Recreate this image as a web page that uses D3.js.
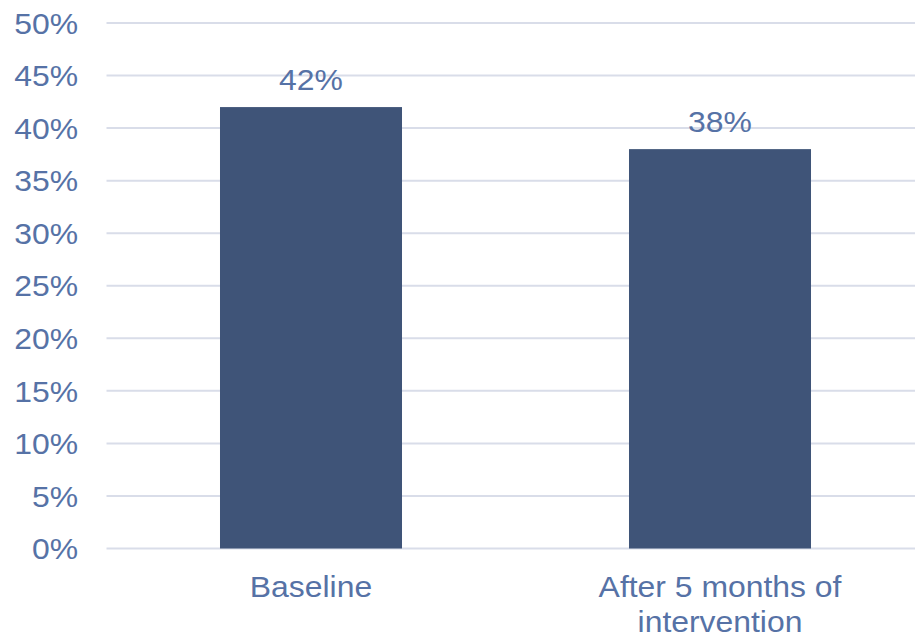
<!DOCTYPE html>
<html>
<head>
<meta charset="utf-8">
<script src="https://cdn.jsdelivr.net/npm/d3@7"></script>
<style>
  html, body { margin: 0; padding: 0; background: #fff; }
  svg { display: block; font-family: "Liberation Sans", Arial, sans-serif; }
</style>
</head>
<body>
<svg id="chart" width="915" height="637"></svg>
<script>
// Share of participants by phase
const categories = ["Baseline", "After 5 months of intervention"];
const categoryLines = [["Baseline"], ["After 5 months of", "intervention"]];
const values = [42, 38];
const yTicks = [0, 5, 10, 15, 20, 25, 30, 35, 40, 45, 50];

const svg = d3.select("#chart");
const textColor = "#5672a6";
const barColor = "#3f5478";
const gridColor = "#d9dde9";
const fontSize = 29;
const stretch = 1.1; // slightly widened lettering

const plotLeft = 106.5, plotRight = 924.5;
const yTop = 23, yBottom = 548.5;

const x = d3.scaleBand().domain(categories).range([plotLeft, plotRight]).padding(0);
const barW = x.bandwidth() * 0.445;
const y = d3.scaleLinear().domain([0, 50]).range([yBottom, yTop]);

// places a text element at (px, py) with horizontal widening
function place(sel, px, py) {
  sel.attr("transform", (d, i) => `translate(${px(d, i)},${py(d, i)}) scale(${stretch},1)`);
}

// gridlines
svg.append("g").selectAll("line").data(yTicks).join("line")
  .attr("x1", plotLeft).attr("x2", 915)
  .attr("y1", d => y(d)).attr("y2", d => y(d))
  .attr("stroke", gridColor).attr("stroke-width", 2);

// y axis labels
const yAxis = d3.axisLeft(y).tickValues(yTicks).tickFormat(d => d + "%").tickSize(0).tickPadding(0);
const yg = svg.append("g").attr("transform", "translate(78,0)").call(yAxis);
yg.select(".domain").remove();
yg.selectAll("text").attr("fill", textColor).style("font-size", fontSize + "px")
  .style("font-family", "'Liberation Sans', Arial, sans-serif")
  .attr("x", null).attr("dy", "0.35em")
  .attr("transform", `scale(${stretch},1)`);

// bars
svg.append("g").selectAll("rect").data(values).join("rect")
  .attr("x", (d, i) => x(categories[i]) + (x.bandwidth() - barW) / 2)
  .attr("y", d => y(d))
  .attr("width", barW)
  .attr("height", d => y(0) - y(d))
  .attr("fill", barColor);

// value labels
svg.append("g").selectAll("text").data(values).join("text")
  .call(place, (d, i) => x(categories[i]) + x.bandwidth() / 2, d => y(d) - 17)
  .attr("text-anchor", "middle")
  .attr("fill", textColor)
  .style("font-size", fontSize + "px")
  .text(d => d + "%");

// category labels
const cg = svg.append("g").selectAll("text").data(categories).join("text")
  .call(place, d => x(d) + x.bandwidth() / 2, () => 597)
  .attr("text-anchor", "middle")
  .attr("fill", textColor)
  .style("font-size", fontSize + "px");
cg.each(function(d, i) {
  d3.select(this).selectAll("tspan").data(categoryLines[i]).join("tspan")
    .attr("x", 0)
    .attr("dy", (t, j) => j === 0 ? 0 : 35)
    .text(t => t);
});
</script>
</body>
</html>
